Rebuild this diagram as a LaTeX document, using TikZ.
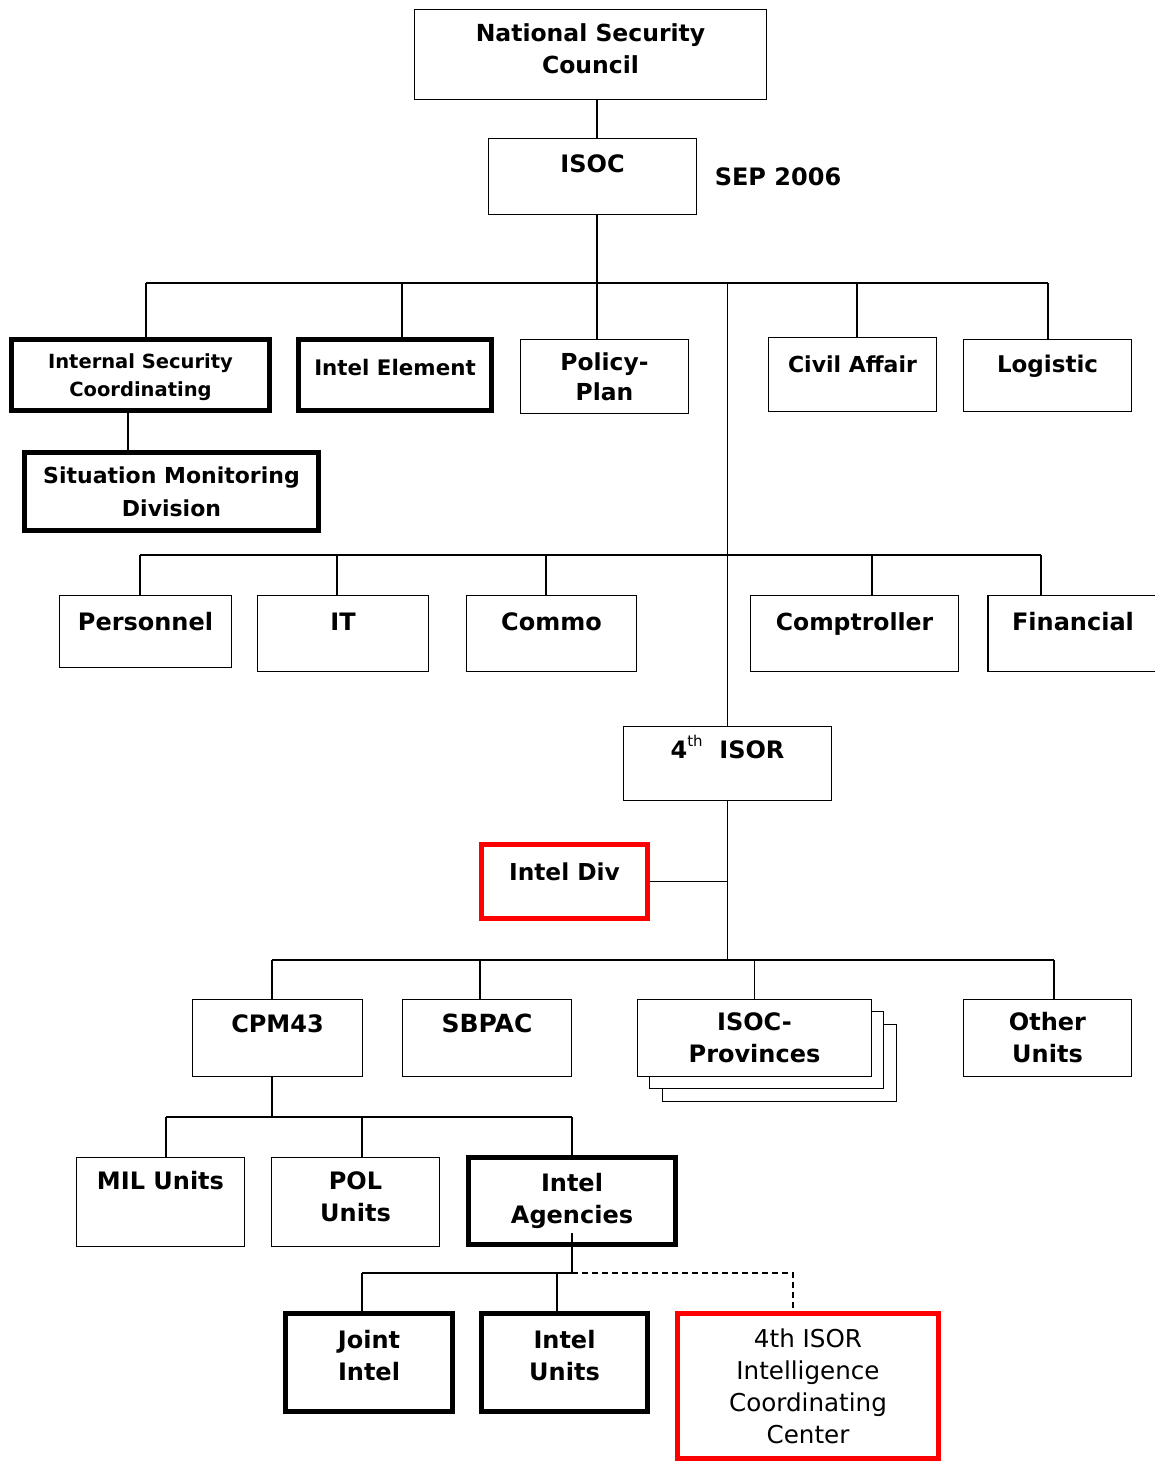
\documentclass[tikz,border=0pt]{standalone}
\usepackage{fontspec}
\setmainfont{DejaVu Sans}
\usetikzlibrary{shadows}
\tikzset{
  box/.style={draw, line width=1.8pt, fill=white, align=center, inner sep=2pt,
    font=\bfseries\fontsize{24}{32}\selectfont},
  heavy/.style={box, line width=5pt},
  alert/.style={box, draw=red, line width=5pt},
  lift/.style 2 args={text height=#1, text depth=#2},
  link/.style={line width=1.4pt},
  stack/.style={copy shadow={shadow xshift=#1, shadow yshift=-#1, draw=black, fill=white, line width=1.8pt}},
}
\begin{document}
\begin{tikzpicture}[x=1pt, y=-1pt]
\useasboundingbox[fill=white] (0,0) rectangle (1154,1463);
% top of the chart
\node[box, lift={49pt}{10pt}, minimum width=352, minimum height=90, font=\bfseries\fontsize{23.5}{32}\selectfont] (nsc) at (590.5,54.5) {National Security\\Council};
\node[box, lift={17pt}{24pt}, minimum width=208, minimum height=76] (isoc) at (592.5,176.5) {ISOC};
\node[font=\bfseries\fontsize{24}{32}\selectfont] (date) at (778,177) {SEP 2006};
\node[heavy, lift={45pt}{3pt}, minimum width=258, minimum height=71, font=\bfseries\fontsize{19.5}{28}\selectfont] (isc) at (140.5,375) {Internal Security\\Coordinating};
\node[heavy, lift={17pt}{17pt}, minimum width=193, minimum height=71, font=\bfseries\fontsize{21.4}{28}\selectfont] (ie) at (395,375) {Intel Element};
\node[box, lift={47pt}{-4pt}, minimum width=168, minimum height=74, font=\bfseries\fontsize{23.4}{30}\selectfont] (pp) at (604.5,376.5) {Policy-\\Plan};
\node[box, lift={17pt}{22pt}, minimum width=168, minimum height=74, font=\bfseries\fontsize{22}{32}\selectfont] (ca) at (852.5,374.5) {Civil Affair};
\node[box, lift={17pt}{24pt}, minimum width=168, minimum height=72, font=\bfseries\fontsize{23}{32}\selectfont] (log) at (1047.5,375.5) {Logistic};
\node[heavy, lift={50pt}{-3pt}, minimum width=294, minimum height=78, font=\bfseries\fontsize{22}{33}\selectfont] (smd) at (171.5,491.5) {Situation Monitoring\\Division};
% staff sections
\node[box, lift={17pt}{20pt}, minimum width=172, minimum height=72] (pers) at (145.5,631.5) {Personnel};
\node[box, lift={17pt}{24pt}, minimum width=171, minimum height=76] (it) at (343,633.5) {IT};
\node[box, lift={17pt}{24pt}, minimum width=170, minimum height=76] (commo) at (551.5,633.5) {Commo};
\node[box, lift={17pt}{24pt}, minimum width=208, minimum height=76, font=\bfseries\fontsize{23.5}{32}\selectfont] (comp) at (854.5,633.5) {Comptroller};
\node[box, lift={17pt}{24pt}, minimum width=170, minimum height=76] (fin) at (1073,633.5) {Financial};
% region
\node[box, lift={17pt}{28pt}, minimum width=208, minimum height=74] (isor) at (727.5,763.5) {4\raisebox{12pt}{\fontsize{15}{15}\selectfont\mdseries th}\ \ ISOR};
\node[alert, lift={17pt}{20pt}, minimum width=166, minimum height=74, font=\bfseries\fontsize{23.3}{32}\selectfont] (idiv) at (564.5,881.5) {Intel Div};
\node[box, lift={17pt}{29pt}, minimum width=170, minimum height=77] (cpm) at (277.5,1038) {CPM43};
\node[box, lift={17pt}{29pt}, minimum width=169, minimum height=77, font=\bfseries\fontsize{25}{32}\selectfont] (sbpac) at (487,1038) {SBPAC};
\node[box, lift={49pt}{-3pt}, stack=25pt, stack=12pt, minimum width=234, minimum height=77] (prov) at (754.5,1038) {ISOC-\\Provinces};
\node[box, lift={49pt}{-3pt}, minimum width=168, minimum height=77] (other) at (1047.5,1038) {Other\\Units};
\node[box, lift={17pt}{43pt}, minimum width=168, minimum height=89] (mil) at (160.5,1202) {MIL Units};
\node[box, lift={49pt}{11pt}, minimum width=168, minimum height=89] (pol) at (355.5,1202) {POL\\Units};
\node[heavy, lift={49pt}{5pt}, minimum width=207, minimum height=87] (ia) at (572,1201) {Intel\\Agencies};
\node[heavy, lift={49pt}{14pt}, minimum width=167, minimum height=98] (ji) at (369,1362.5) {Joint\\Intel};
\node[heavy, lift={49pt}{14pt}, minimum width=166, minimum height=98] (iu) at (564.5,1362.5) {Intel\\Units};
\node[alert, lift={114pt}{-3pt}, minimum width=261, minimum height=145, font=\fontsize{24.6}{32}\selectfont] (icc) at (808,1386) {4th ISOR\\Intelligence\\Coordinating\\Center};
% connectors
\coordinate (trunk) at (597,0);
\coordinate (b1w) at (146,283); \coordinate (b1e) at (1048,283);
\coordinate (b2w) at (140,555); \coordinate (b2e) at (1041,555);
\coordinate (b3w) at (272,960); \coordinate (b3e) at (1054,960);
\coordinate (b4w) at (166,1117); \coordinate (b4e) at (572,1117);
\coordinate (b5w) at (362,1273); \coordinate (b5e) at (572,1273);
\draw[link] (nsc.south -| trunk) -- (isoc.north -| trunk);
\draw[link] (isoc.south -| trunk) -- (pp.north -| trunk);
\draw[link] (b1w) -- (b1e);
\draw[link] (isc.north -| b1w) -- (b1w);
\draw[link] ([xshift=7pt]ie.north) -- ([xshift=7pt]ie.north |- b1w);
\draw[link] ([xshift=4.5pt]ca.north) -- ([xshift=4.5pt]ca.north |- b1w);
\draw[link] (log.north -| b1e) -- (b1e);
\draw[link] (isor.north) -- (isor.north |- b1w);
\draw[link] ([xshift=-12.5pt]isc.south) -- ([xshift=-12.5pt]isc.south |- smd.north);
\draw[link] (b2w) -- (b2e);
\draw[link] (pers.north -| b2w) -- (b2w);
\draw[link] ([xshift=-6pt]it.north) -- ([xshift=-6pt]it.north |- b2w);
\draw[link] ([xshift=-5.5pt]commo.north) -- ([xshift=-5.5pt]commo.north |- b2w);
\draw[link] ([xshift=17.5pt]comp.north) -- ([xshift=17.5pt]comp.north |- b2w);
\draw[link] (fin.north -| b2e) -- (b2e);
\draw[link] (isor.south) -- (isor.south |- b3w);
\draw[link] (idiv.east) -- (idiv.east -| isor.south);
\draw[link] (b3w) -- (b3e);
\draw[link] (cpm.north -| b3w) -- (b3w);
\draw[link] ([xshift=-7pt]sbpac.north) -- ([xshift=-7pt]sbpac.north |- b3w);
\draw[link] (prov.north) -- (prov.north |- b3w);
\draw[link] (other.north -| b3e) -- (b3e);
\draw[link] (cpm.south -| b3w) -- (b3w |- b4w);
\draw[link] (b4w) -- (b4e);
\draw[link] (mil.north -| b4w) -- (b4w);
\draw[link] ([xshift=6.5pt]pol.north) -- ([xshift=6.5pt]pol.north |- b4w);
\draw[link] (ia.north) -- (b4e);
\draw[link] ([yshift=14pt]ia.south) -- (b5e);
\draw[link] (b5w) -- (b5e);
\draw[link] (ji.north -| b5w) -- (b5w);
\draw[link] ([xshift=-7.5pt]iu.north) -- ([xshift=-7.5pt]iu.north |- b5w);
\draw[link, dash pattern=on 6pt off 4pt] (b5e) -| ([xshift=-15pt]icc.north);
\end{tikzpicture}
\end{document}
